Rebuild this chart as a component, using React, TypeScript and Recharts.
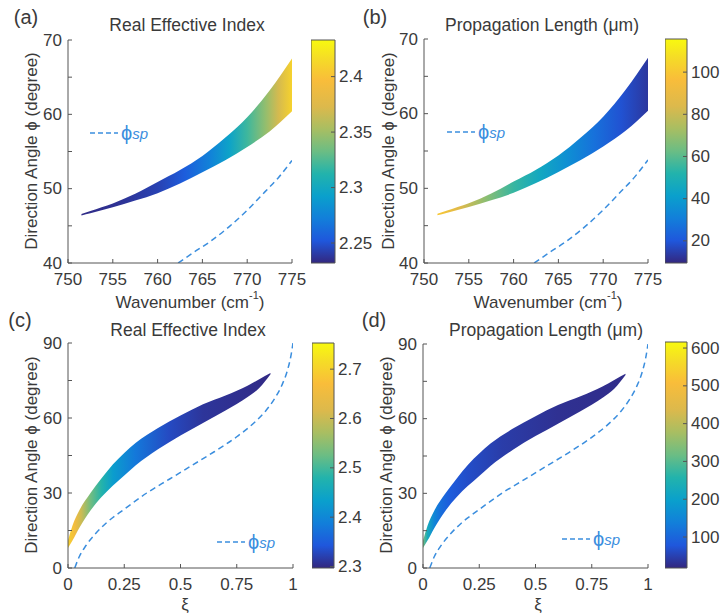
import React from "react";
import { ComposedChart, Area, Line, XAxis, YAxis, ReferenceArea } from "recharts";

const FONT = '"Liberation Sans", Arial, sans-serif';
const TEXT = "#3a3a3a";
const AXIS = "#555";
const SP_BLUE = "#3b8ede";

// parula-like colormap (fraction -> colour)
const cmapStops: [number, string][] = [
  [0, "#33277f"], [0.1, "#1f57dc"], [0.2, "#127fda"], [0.3, "#0aa0cc"],
  [0.4, "#22b3ac"], [0.5, "#6bbd84"], [0.6, "#a8be62"], [0.7, "#dcb94c"],
  [0.82, "#f9bd3a"], [0.92, "#f5dd26"], [1, "#f8f90f"],
];

// (a)/(b): wavenumber sweep
const wavenumbers = [751.5, 752.5, 755, 757.5, 760, 762.5, 765, 767.5, 770, 772.5, 775];
const upperWn = [46.6, 47.0, 48.0, 49.3, 50.9, 52.5, 54.4, 56.8, 59.6, 63.2, 67.5];
const lowerWn = [46.4, 46.7, 47.5, 48.4, 49.4, 50.7, 52.2, 53.8, 55.6, 57.7, 60.4];
const spWavenumbers = [762.3, 764, 766, 768, 770, 772, 773.5, 775];
const spAngleWn = [40, 41.4, 43.0, 44.9, 47.1, 49.6, 51.5, 53.8];

// colour samples along the band
const colorWnA = [751.5, 756, 760, 763, 766, 768, 770, 772, 773.5, 775];
const indexA = [2.234, 2.237, 2.243, 2.255, 2.275, 2.295, 2.32, 2.345, 2.37, 2.41];
const colorWnB = [751.5, 754, 757, 760, 763, 766, 769, 772, 775];
const lengthB = [100, 85, 68, 55, 45, 36, 27, 19, 13];

// (c)/(d): xi sweep
const xiBand = [0, 0.02, 0.05, 0.1, 0.15, 0.2, 0.25, 0.3, 0.4, 0.5, 0.6, 0.7, 0.8, 0.85, 0.9];
const upperXi = [11, 17, 23, 30, 36, 41.5, 46, 50, 56, 61, 65.5, 69, 73, 75.5, 78];
const lowerXi = [8, 11, 16, 23, 28.5, 33, 37, 41, 47.5, 53, 58, 63, 68.5, 72, 77.5];
const spXi = [0.03, 0.05, 0.08, 0.12, 0.17, 0.25, 0.35, 0.45, 0.55, 0.65, 0.75, 0.82, 0.88, 0.92, 0.95, 0.975, 0.99, 1];
const spAngleXi = [0, 4.5, 9, 13.5, 18, 23.5, 30, 35.5, 41, 46.5, 52.5, 57.5, 63, 68, 73, 79, 84.5, 90];

const colorXiC = [0, 0.03, 0.06, 0.1, 0.15, 0.2, 0.3, 0.45, 0.6, 0.9];
const indexC = [2.7, 2.66, 2.6, 2.53, 2.48, 2.43, 2.38, 2.33, 2.31, 2.3];
const colorXiD = [0, 0.02, 0.05, 0.08, 0.12, 0.2, 0.35, 0.6, 0.9];
const lengthD = [330, 230, 150, 110, 85, 65, 45, 30, 25];

const wnTicks = [750, 755, 760, 765, 770, 775];
const wnAngleTicks = [40, 45, 50, 55, 60, 65, 70];
const xiTicks = [0, 0.25, 0.5, 0.75, 1];
const xiAngleTicks = [0, 15, 30, 45, 60, 75, 90];

const hexToRgb = (h: string) => [1, 3, 5].map((i) => parseInt(h.slice(i, i + 2), 16));
function cmap(f: number) {
  const t = Math.max(0, Math.min(1, f));
  for (let i = 1; i < cmapStops.length; i++) {
    const [f1, c1] = cmapStops[i];
    const [f0, c0] = cmapStops[i - 1];
    if (t <= f1) {
      const k = (t - f0) / (f1 - f0);
      const a = hexToRgb(c0);
      const b = hexToRgb(c1);
      return `rgb(${a.map((v, j) => Math.round(v + (b[j] - v) * k)).join(",")})`;
    }
  }
  return cmapStops[cmapStops.length - 1][1];
}

interface Box { l: number; t: number; r: number; b: number }

interface PanelProps {
  id: string;
  plot: Box;
  cbar: Box;
  xDomain: [number, number];
  yDomain: [number, number];
  xTicks: number[];
  yTicks: number[];
  yLabelEvery: number;
  bandX: number[];
  upper: number[];
  lower: number[];
  spX: number[];
  spY: number[];
  colorX: number[];
  colorV: number[];
  cDomain: [number, number];
  cTicks: number[];
}

const PAD_L = 50;
const PAD_T = 10;
const PAD_B = 30;
const PAD_R = 20;

function Panel(p: PanelProps) {
  const w = p.plot.r - p.plot.l;
  const h = p.plot.b - p.plot.t;
  const band = p.bandX.map((x, i) => ({ x, range: [p.lower[i], p.upper[i]] }));
  const sp = p.spX.map((x, i) => ({ x, y: p.spY[i] }));
  const [x0, x1] = p.xDomain;
  const [c0, c1] = p.cDomain;
  const cw = p.cbar.r - p.cbar.l;
  const ch = p.cbar.b - p.cbar.t;

  const yTick = (props: any) => {
    const y = props.y;
    const v = props.payload.value;
    return (
      <g>
        <line x1={PAD_L} x2={PAD_L + 4} y1={y} y2={y} stroke={AXIS} />
        {v % p.yLabelEvery === 0 && (
          <text x={PAD_L - 6} y={y} textAnchor="end" dominantBaseline="central" fontSize={17} fill={TEXT} fontFamily={FONT}>
            {v}
          </text>
        )}
      </g>
    );
  };
  const xTick = (props: any) => {
    const x = props.x;
    return (
      <g>
        <line x1={x} x2={x} y1={PAD_T + h} y2={PAD_T + h - 4} stroke={AXIS} />
        <text x={x} y={PAD_T + h + 16} textAnchor="middle" dominantBaseline="central" fontSize={17} fill={TEXT} fontFamily={FONT}>
          {String(props.payload.value)}
        </text>
      </g>
    );
  };
  const cTick = (props: any) => {
    const y = props.y;
    return (
      <g>
        <line x1={cw - 4} x2={cw} y1={y} y2={y} stroke={AXIS} />
        <text x={cw + 4} y={y} textAnchor="start" dominantBaseline="central" fontSize={17} fill={TEXT} fontFamily={FONT}>
          {props.payload.value}
        </text>
      </g>
    );
  };

  return (
    <>
      <div style={{ position: "absolute", left: p.plot.l - PAD_L, top: p.plot.t - PAD_T }}>
        <ComposedChart width={w + PAD_L + PAD_R} height={h + PAD_T + PAD_B} data={band}
          margin={{ top: PAD_T, right: PAD_R, left: 0, bottom: 0 }}>
          <defs>
            <linearGradient id={`band-${p.id}`} gradientUnits="userSpaceOnUse" x1={PAD_L} x2={PAD_L + w} y1={0} y2={0}>
              {p.colorX.map((cx, i) => (
                <stop key={i} offset={(cx - x0) / (x1 - x0)} stopColor={cmap((p.colorV[i] - c0) / (c1 - c0))} />
              ))}
            </linearGradient>
          </defs>
          <XAxis dataKey="x" type="number" domain={p.xDomain} ticks={p.xTicks} height={PAD_B}
            stroke={AXIS} tickLine={false} tick={xTick} allowDataOverflow interval={0} />
          <YAxis type="number" domain={p.yDomain} ticks={p.yTicks} width={PAD_L}
            stroke={AXIS} tickLine={false} tick={yTick} allowDataOverflow interval={0} />
          <Area dataKey="range" type="monotone" stroke="none" fill={`url(#band-${p.id})`} fillOpacity={1}
            isAnimationActive={false} activeDot={false} />
          <Line data={sp} dataKey="y" type="monotone" stroke={SP_BLUE} strokeWidth={1.5} strokeDasharray="6 4"
            dot={false} activeDot={false} isAnimationActive={false} />
        </ComposedChart>
      </div>
      <div style={{ position: "absolute", left: p.cbar.l, top: p.cbar.t - PAD_T }}>
        <ComposedChart width={cw + 50} height={ch + 2 * PAD_T} data={[{ x: 0 }, { x: 1 }]}
          margin={{ top: PAD_T, right: 0, left: 0, bottom: PAD_T }}>
          <defs>
            <linearGradient id={`cbar-${p.id}`} x1={0} y1={1} x2={0} y2={0}>
              {cmapStops.map(([f, c]) => <stop key={f} offset={f} stopColor={c} />)}
            </linearGradient>
          </defs>
          <XAxis dataKey="x" type="number" domain={[0, 1]} hide />
          <YAxis orientation="right" type="number" domain={p.cDomain} ticks={p.cTicks} width={50}
            axisLine={false} tickLine={false} tick={cTick} allowDataOverflow interval={0} />
          <ReferenceArea x1={0} x2={1} y1={c0} y2={c1} fill={`url(#cbar-${p.id})`} fillOpacity={1}
            stroke="#555" strokeWidth={1} />
        </ComposedChart>
      </div>
    </>
  );
}

function Legend({ x, y }: { x: number; y: number }) {
  return (
    <g>
      <line x1={x} x2={x + 28} y1={y} y2={y} stroke={SP_BLUE} strokeWidth={1.5} strokeDasharray="5 3" />
      <text x={x + 31} y={y} dominantBaseline="central" fill={SP_BLUE} fontFamily={FONT} fontSize={20}>
        ϕ<tspan fontSize={15} fontStyle="italic">sp</tspan>
      </text>
    </g>
  );
}

function YLabel({ x, y }: { x: number; y: number }) {
  return (
    <text x={x} y={y} transform={`rotate(-90 ${x} ${y})`} textAnchor="middle" dominantBaseline="central"
      fontSize={17} fill={TEXT} fontFamily={FONT}>
      Direction Angle ϕ (degree)
    </text>
  );
}

function WnLabel({ x, y }: { x: number; y: number }) {
  return (
    <text x={x} y={y} textAnchor="middle" dominantBaseline="central" fontSize={17} fill={TEXT} fontFamily={FONT}>
      Wavenumber (cm<tspan fontSize={11} dy={-7}>-1</tspan><tspan dy={7}>)</tspan>
    </text>
  );
}

function Txt({ x, y, s, size = 17 }: { x: number; y: number; s: string; size?: number }) {
  return (
    <text x={x} y={y} textAnchor="middle" dominantBaseline="central" fontSize={size} fill={TEXT} fontFamily={FONT}>
      {s}
    </text>
  );
}

export default function App() {
  return (
    <div style={{ position: "relative", width: 724, height: 613, background: "#fff", overflow: "hidden" }}>
      <style>{"body{margin:0}"}</style>
      <Panel id="a" plot={{ l: 68, t: 40, r: 292, b: 263 }} cbar={{ l: 311, t: 40, r: 335, b: 263 }}
        xDomain={[750, 775]} yDomain={[40, 70]} xTicks={wnTicks} yTicks={wnAngleTicks} yLabelEvery={10}
        bandX={wavenumbers} upper={upperWn} lower={lowerWn} spX={spWavenumbers} spY={spAngleWn}
        colorX={colorWnA} colorV={indexA} cDomain={[2.232, 2.433]} cTicks={[2.25, 2.3, 2.35, 2.4]} />
      <Panel id="b" plot={{ l: 424, t: 39, r: 648, b: 263 }} cbar={{ l: 665, t: 39, r: 687, b: 263 }}
        xDomain={[750, 775]} yDomain={[40, 70]} xTicks={wnTicks} yTicks={wnAngleTicks} yLabelEvery={10}
        bandX={wavenumbers} upper={upperWn} lower={lowerWn} spX={spWavenumbers} spY={spAngleWn}
        colorX={colorWnB} colorV={lengthB} cDomain={[9.5, 115.7]} cTicks={[20, 40, 60, 80, 100]} />
      <Panel id="c" plot={{ l: 68, t: 343, r: 293, b: 568 }} cbar={{ l: 312, t: 343, r: 334, b: 568 }}
        xDomain={[0, 1]} yDomain={[0, 90]} xTicks={xiTicks} yTicks={xiAngleTicks} yLabelEvery={30}
        bandX={xiBand} upper={upperXi} lower={lowerXi} spX={spXi} spY={spAngleXi}
        colorX={colorXiC} colorV={indexC} cDomain={[2.297, 2.753]} cTicks={[2.3, 2.4, 2.5, 2.6, 2.7]} />
      <Panel id="d" plot={{ l: 423, t: 344, r: 648, b: 568 }} cbar={{ l: 665, t: 342, r: 687, b: 568 }}
        xDomain={[0, 1]} yDomain={[0, 90]} xTicks={xiTicks} yTicks={xiAngleTicks} yLabelEvery={30}
        bandX={xiBand} upper={upperXi} lower={lowerXi} spX={spXi} spY={spAngleXi}
        colorX={colorXiD} colorV={lengthD} cDomain={[18, 616]} cTicks={[100, 200, 300, 400, 500, 600]} />
      <svg width={724} height={613} style={{ position: "absolute", left: 0, top: 0, pointerEvents: "none" }}>
        <Txt x={26} y={17} s="(a)" size={20} />
        <Txt x={375} y={17} s="(b)" size={20} />
        <Txt x={20} y={320} s="(c)" size={20} />
        <Txt x={374} y={320} s="(d)" size={20} />
        <Txt x={187} y={25} s="Real Effective Index" size={17.5} />
        <Txt x={542} y={25} s="Propagation Length (μm)" size={17.5} />
        <Txt x={188} y={330} s="Real Effective Index" size={17.5} />
        <Txt x={546} y={330} s="Propagation Length (μm)" size={17.5} />
        <YLabel x={31} y={151} />
        <YLabel x={388} y={151} />
        <YLabel x={31} y={455} />
        <YLabel x={386} y={455} />
        <WnLabel x={190} y={302} />
        <WnLabel x={548} y={302} />
        <Txt x={185} y={604} s="ξ" />
        <Txt x={538} y={604} s="ξ" />
        <Legend x={90} y={133} />
        <Legend x={447} y={132} />
        <Legend x={217} y={542} />
        <Legend x={562} y={539} />
      </svg>
    </div>
  );
}
